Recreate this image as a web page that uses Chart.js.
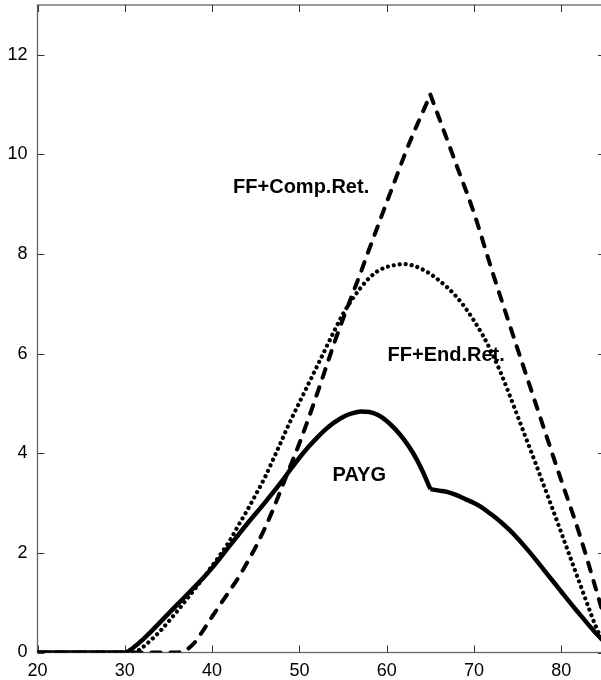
<!DOCTYPE html>
<html lang="en">
<head>
  <meta charset="UTF-8">
  <title>PAYG vs FF</title>
  <script src="https://cdn.jsdelivr.net/npm/chart.js"></script>
  <style>
    html, body {
      margin: 0;
      padding: 0;
      background: #fff;
      overflow: hidden;
    }
    #wrap {
      width: 605px;
      height: 680px;
    }
  </style>
</head>
<body>
  <div id="wrap">
    <canvas id="chart" width="605" height="680"></canvas>
  </div>

  <script>
    // PAYG (solid) - kink at 65
    const paygAges = [20, 30, 31, 32, 33, 34, 35, 36, 37, 38, 39, 40, 42, 44, 46, 48, 49, 50, 51, 52, 53, 54, 55, 56, 57, 58, 59, 60, 61, 62, 63, 64, 65, 66, 67, 68, 69, 70, 71, 72, 73, 74, 75, 76, 77, 78, 79, 80, 81, 82, 83, 84, 85];
    const paygVals = [0, 0, 0.1, 0.25, 0.42, 0.6, 0.78, 0.96, 1.14, 1.32, 1.5, 1.7, 2.14, 2.58, 3.0, 3.44, 3.68, 3.91, 4.12, 4.31, 4.48, 4.62, 4.73, 4.8, 4.84, 4.83, 4.77, 4.65, 4.48, 4.27, 4.01, 3.68, 3.28, 3.25, 3.22, 3.16, 3.08, 3.0, 2.9, 2.77, 2.63, 2.47, 2.29, 2.09, 1.88, 1.66, 1.44, 1.22, 1.0, 0.79, 0.58, 0.38, 0.2];

    // FF + endogenous retirement (dotted)
    const endAges = [20, 31, 32, 33, 34, 35, 36, 37, 38, 39, 40, 41, 42, 43, 44, 45, 46, 47, 48, 49, 50, 51, 52, 53, 54, 55, 56, 57, 58, 59, 60, 61, 62, 63, 64, 65, 66, 67, 68, 69, 70, 71, 72, 73, 74, 75, 76, 77, 78, 79, 80, 81, 82, 83, 84, 85];
    const endVals = [0, 0, 0.1, 0.25, 0.42, 0.62, 0.83, 1.05, 1.27, 1.5, 1.74, 1.98, 2.24, 2.55, 2.85, 3.17, 3.5, 3.88, 4.27, 4.66, 5.02, 5.38, 5.74, 6.1, 6.46, 6.8, 7.08, 7.32, 7.52, 7.66, 7.74, 7.78, 7.8, 7.77, 7.7, 7.6, 7.47, 7.32, 7.14, 6.92, 6.66, 6.37, 6.03, 5.64, 5.2, 4.74, 4.28, 3.82, 3.35, 2.88, 2.4, 1.92, 1.44, 0.96, 0.5, 0.15];

    // FF + compulsory retirement (dashed) - peak at 65
    const compAges = [20, 36, 37, 38, 39, 40, 41, 42, 43, 44, 45, 46, 47, 48, 49, 50, 51, 52, 53, 54, 55, 56, 57, 58, 59, 60, 61, 62, 63, 64, 65, 66, 68, 70, 72, 74, 76, 78, 80, 82, 84, 85];
    const compVals = [0, 0, 0.05, 0.2, 0.45, 0.72, 0.98, 1.24, 1.5, 1.8, 2.12, 2.48, 2.88, 3.32, 3.76, 4.2, 4.68, 5.18, 5.7, 6.22, 6.7, 7.16, 7.62, 8.1, 8.57, 9.04, 9.5, 9.97, 10.4, 10.8, 11.2, 10.73, 9.78, 8.82, 7.7, 6.62, 5.56, 4.5, 3.45, 2.42, 1.25, 0.65];

    const retireAge = 65;
    const xTicks = [20, 30, 40, 50, 60, 70, 80];
    const yTicks = [0, 2, 4, 6, 8, 10, 12];

    // text labels placed in data units (age, value of baseline)
    const labelTexts = ['FF+Comp.Ret.', 'FF+End.Ret.', 'PAYG'];
    const labelAges = [42.4, 60.1, 53.8];
    const labelVals = [9.22, 5.86, 3.44];

    function toPoints(xs, ys) {
      return xs.map((x, i) => ({ x: x, y: ys[i] }));
    }
    // split a curve at the retirement age so the corner stays sharp
    function before(xs, ys) { return toPoints(xs, ys).filter(p => p.x <= retireAge); }
    function after(xs, ys) { return toPoints(xs, ys).filter(p => p.x >= retireAge); }

    const tickFont = { family: "'Liberation Sans', Arial, sans-serif", size: 18 };

    const solid = { borderColor: '#000', borderWidth: 4.5, pointRadius: 0, cubicInterpolationMode: 'monotone' };
    const dashed = { borderColor: '#000', borderWidth: 4, borderDash: [9, 10], borderCapStyle: 'round', pointRadius: 0, cubicInterpolationMode: 'monotone' };
    const dotted = { borderColor: '#000', borderWidth: 4.2, borderDash: [0.01, 6], borderCapStyle: 'round', pointRadius: 0, cubicInterpolationMode: 'monotone' };

    // box around the plot with inward tick marks on every side
    const framePlugin = {
      id: 'frame',
      beforeDatasetsDraw(chart) {
        const { ctx, chartArea: a, scales } = chart;
        const len = 7;
        ctx.save();
        ctx.strokeStyle = '#666';
        ctx.lineWidth = 1.3;
        ctx.strokeRect(a.left, a.top, a.right - a.left, a.bottom - a.top);
        ctx.strokeStyle = '#333';
        ctx.lineWidth = 1;
        ctx.beginPath();
        xTicks.forEach(v => {
          const px = Math.round(scales.x.getPixelForValue(v)) + 0.5;
          ctx.moveTo(px, a.bottom); ctx.lineTo(px, a.bottom - len);
          ctx.moveTo(px, a.top); ctx.lineTo(px, a.top + len);
        });
        yTicks.forEach(v => {
          const py = Math.round(scales.y.getPixelForValue(v)) + 0.5;
          ctx.moveTo(a.left, py); ctx.lineTo(a.left + len, py);
          ctx.moveTo(a.right, py); ctx.lineTo(a.right - len, py);
        });
        ctx.stroke();
        ctx.restore();
      }
    };

    const labelPlugin = {
      id: 'curveLabels',
      afterDatasetsDraw(chart) {
        const { ctx, scales } = chart;
        ctx.save();
        ctx.fillStyle = '#000';
        ctx.font = "bold 20px 'Liberation Sans', Arial, sans-serif";
        ctx.textAlign = 'left';
        ctx.textBaseline = 'alphabetic';
        labelTexts.forEach((t, i) => {
          ctx.fillText(t, scales.x.getPixelForValue(labelAges[i]), scales.y.getPixelForValue(labelVals[i]));
        });
        ctx.restore();
      }
    };

    const ctx = document.getElementById('chart').getContext('2d');
    const chart = new Chart(ctx, {
      type: 'line',
      data: {
        datasets: [
          Object.assign({ label: 'FF+Comp.Ret.', data: before(compAges, compVals) }, dashed),
          Object.assign({ label: 'FF+Comp.Ret.', data: after(compAges, compVals) }, dashed),
          Object.assign({ label: 'FF+End.Ret.', data: toPoints(endAges, endVals) }, dotted),
          Object.assign({ label: 'PAYG', data: before(paygAges, paygVals) }, solid),
          Object.assign({ label: 'PAYG', data: after(paygAges, paygVals) }, solid)
        ]
      },
      options: {
        responsive: false,
        animation: false,
        layout: { padding: { top: 5, right: 0, left: 0, bottom: 0 } },
        plugins: {
          legend: { display: false },
          tooltip: { enabled: false }
        },
        scales: {
          x: {
            type: 'linear',
            min: 20,
            max: 85,
            grid: { display: false, drawTicks: false },
            border: { display: false },
            ticks: { stepSize: 10, padding: 8, color: '#000', font: tickFont, maxRotation: 0 },
            afterBuildTicks: s => { s.ticks = xTicks.map(v => ({ value: v })); },
            afterFit: s => { s.height = 27.5; s.paddingLeft = 0; s.paddingRight = 0; }
          },
          y: {
            min: 0,
            max: 13,
            grid: { display: false, drawTicks: false },
            border: { display: false },
            ticks: { stepSize: 2, padding: 10, color: '#000', font: tickFont },
            afterBuildTicks: s => { s.ticks = yTicks.map(v => ({ value: v })); },
            afterFit: s => { s.width = 37.5; s.paddingTop = 0; s.paddingBottom = 0; }
          }
        }
      },
      plugins: [framePlugin, labelPlugin]
    });
  </script>
</body>
</html>
